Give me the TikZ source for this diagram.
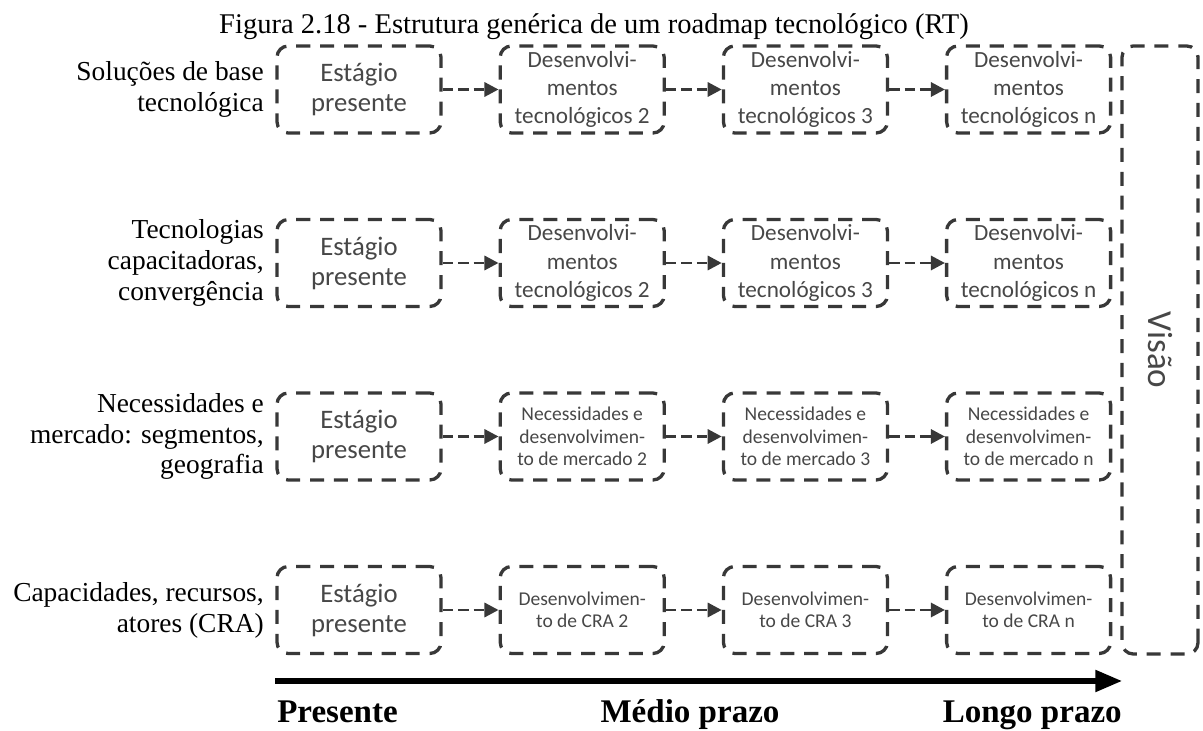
\documentclass[tikz,border=0pt]{standalone}
\usepackage{fontspec}
\setmainfont{Liberation Serif}
\newfontfamily\boxfont{Carlito}
\usetikzlibrary{arrows.meta,positioning}

\begin{document}
\begin{tikzpicture}[
  font=\fontsize{19.5}{22}\selectfont,
  stage/.style={draw=black!78, line width=2.35pt, dash pattern=on 10pt off 7pt, rounded corners=8pt, align=center, minimum width=4.1cm, minimum height=2.175cm, inner sep=1pt, text=black!72, font=\boxfont\fontsize{19}{21.3}\selectfont},
  devbox/.style={stage, font=\boxfont\fontsize{16.5}{20}\selectfont},
  mktbox/.style={stage, font=\boxfont\fontsize{13.9}{16}\selectfont},
  link/.style={-{Triangle[length=10pt,width=10pt]}, draw=black!78, line width=2.1pt, dash pattern=on 7.5pt off 3.5pt},
  timeline/.style={-{Triangle[length=19pt,width=15pt]}, line width=3.6pt, draw=black},
  rowlabel/.style={anchor=east, align=right, inner sep=0pt},
  period/.style={font=\bfseries\fontsize{23.5}{26}\selectfont, inner sep=0pt}
]
\useasboundingbox (0,0) rectangle (30.075,18.275);

\node[anchor=base, inner sep=0pt, font=\fontsize{20.3}{24}\selectfont] (title) at (14.85,17.425) {Figura 2.18 - Estrutura genérica de um roadmap tecnológico (RT)};

% Row labels.
\node[rowlabel] (lbl-sol) at (6.6,16.0375) {Soluções de base\\tecnológica};
\node[rowlabel] (lbl-cap) at (6.6,11.7) {Tecnologias\\capacitadoras,\\convergência};
\node[rowlabel] (lbl-mer) at (6.6,7.3625) {Necessidades e\\mercado: segmentos,\\geografia};
\node[rowlabel] (lbl-cra) at (6.6,3.025) {Capacidades, recursos,\\atores (CRA)};

% Technology solutions.
\node[stage] (sol-0) at (8.975,16.0375) {Estágio\\presente};
\node[devbox] (sol-2) at (14.555,16.0375) {Desenvolvi-\\mentos\\tecnológicos 2};
\node[devbox] (sol-3) at (20.135,16.0375) {Desenvolvi-\\mentos\\tecnológicos 3};
\node[devbox] (sol-n) at (25.715,16.0375) {Desenvolvi-\\mentos\\tecnológicos n};

% Enabling technologies.
\node[stage] (cap-0) at (8.975,11.7) {Estágio\\presente};
\node[devbox] (cap-2) at (14.555,11.7) {Desenvolvi-\\mentos\\tecnológicos 2};
\node[devbox] (cap-3) at (20.135,11.7) {Desenvolvi-\\mentos\\tecnológicos 3};
\node[devbox] (cap-n) at (25.715,11.7) {Desenvolvi-\\mentos\\tecnológicos n};

% Market needs.
\node[stage] (mer-0) at (8.975,7.3625) {Estágio\\presente};
\node[mktbox] (mer-2) at (14.555,7.3625) {Necessidades e\\desenvolvimen-\\to de mercado 2};
\node[mktbox] (mer-3) at (20.135,7.3625) {Necessidades e\\desenvolvimen-\\to de mercado 3};
\node[mktbox] (mer-n) at (25.715,7.3625) {Necessidades e\\desenvolvimen-\\to de mercado n};

% Capabilities, resources, actors.
\node[stage] (cra-0) at (8.975,3.025) {Estágio\\presente};
\node[mktbox] (cra-2) at (14.555,3.025) {Desenvolvimen-\\to de CRA 2};
\node[mktbox] (cra-3) at (20.135,3.025) {Desenvolvimen-\\to de CRA 3};
\node[mktbox] (cra-n) at (25.715,3.025) {Desenvolvimen-\\to de CRA n};

\node[stage, rotate=-90, minimum width=15.2cm, minimum height=1.9cm, font=\boxfont\fontsize{25}{28}\selectfont] (vision) at (29.0,9.525) {Visão};

\foreach \r in {sol,cap,mer,cra} {
  \draw[link] (\r-0) -- (\r-2);
  \draw[link] (\r-2) -- (\r-3);
  \draw[link] (\r-3) -- (\r-n);
}

% Time axis.
\coordinate (t-start) at (6.875,1.25);
\coordinate (t-end) at (28.05,1.25);
\draw[timeline] (t-start) -- (t-end);

\node[period, anchor=base west] (p-now) at (6.925,0.2) {Presente};
\node[period, anchor=base] (p-mid) at (17.25,0.2) {Médio prazo};
\node[period, anchor=base east] (p-long) at (28.05,0.2) {Longo prazo};

\end{tikzpicture}
\end{document}
